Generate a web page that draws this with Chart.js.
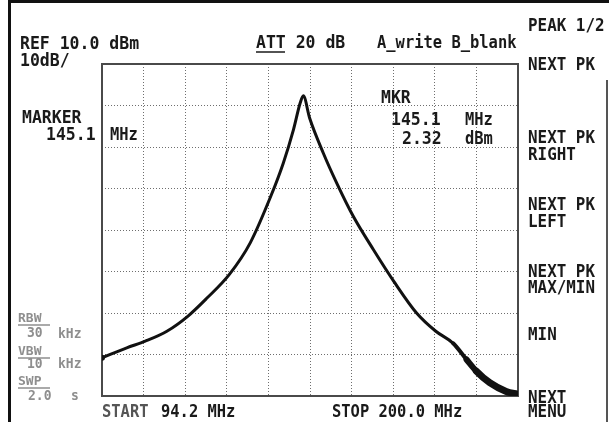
<!DOCTYPE html>
<html>
<head>
<meta charset="utf-8">
<script src="https://cdn.jsdelivr.net/npm/chart.js@4.4.1/dist/chart.umd.min.js"></script>
<style>
  html, body { margin: 0; padding: 0; background: #fff; }
  #wrap { position: relative; width: 609px; height: 422px; }
</style>
</head>
<body>
<div id="wrap"><canvas id="sa"></canvas></div>
<script>
/* spectrum analyser trace, 94.2 - 200 MHz, ref 10 dBm, 10 dB/div */

var FREQ_MHZ = [94.2, 100.5, 105.2, 110.7, 116.0, 120.9, 126.6, 131.9, 137.2, 140.3, 142.9,
                144.6, 145.4, 147.0, 150.5, 153.9, 158.1, 163.2, 168.5, 174.2, 179.1,
                183.5, 186.9, 189.4, 192.8, 197.0, 200.0];
var LEVEL_DBM = [-60.8, -58.4, -56.8, -54.4, -50.8, -46.4, -40.7, -33.1, -21.7, -13.9, -5.8,
                 0.6, 2.32, -3.0, -11.5, -18.7, -26.7, -34.7, -42.5, -50.0, -54.4,
                 -57.3, -61.2, -64.0, -66.8, -68.9, -69.6];

var F_START = 94.2, F_STOP = 200.0;
var REF_LEVEL = 10, BOTTOM_LEVEL = -70;

var MENU_LINES = [
    ['PEAK 1/2', 31], ['NEXT PK', 70],
    ['NEXT PK', 143], ['RIGHT', 160],
    ['NEXT PK', 210], ['LEFT', 227],
    ['NEXT PK', 277], ['MAX/MIN', 293],
    ['MIN', 340],
    ['NEXT', 403], ['MENU', 417]
];

var TEXT_DARK = '#1a1a1a';
var TEXT_GREY = '#8e8e8e';
var GRID_COL  = '#6e6e6e';
var FRAME_COL = '#4a4a4a';

function txt(ctx, s, x, y, size, color, sy, sx) {
    ctx.save();
    ctx.font = 'bold ' + size + 'px "DejaVu Sans Mono"';
    ctx.fillStyle = color;
    ctx.textBaseline = 'alphabetic';
    ctx.translate(x, y);
    ctx.scale(sx || 1.03, sy || 1.12);
    ctx.fillText(s, 0, 0);
    ctx.restore();
}

function underline(ctx, x1, x2, y, color) {
    ctx.save();
    ctx.strokeStyle = color;
    ctx.lineWidth = 1.5;
    ctx.beginPath();
    ctx.moveTo(x1, y);
    ctx.lineTo(x2, y);
    ctx.stroke();
    ctx.restore();
}

var screenPlugin = {
    id: 'screen',
    beforeDatasetsDraw: function(chart) {
        var ctx = chart.ctx, a = chart.chartArea;
        ctx.save();
        ctx.strokeStyle = FRAME_COL;
        ctx.lineWidth = 2;
        ctx.strokeRect(a.left, a.top, a.right - a.left, a.bottom - a.top);
        ctx.restore();
    },
    afterDraw: function(chart) {
        var ctx = chart.ctx;

        // photo border
        ctx.save();
        ctx.fillStyle = '#111';
        ctx.fillRect(8, 0, 3, 422);
        ctx.fillRect(8, 0, 601, 3);
        ctx.fillStyle = '#555';
        ctx.fillRect(606, 80, 2, 342);
        ctx.restore();

        // header
        txt(ctx, 'REF 10.0 dBm', 20, 49, 16, TEXT_DARK);
        txt(ctx, '10dB/', 20, 66, 16, TEXT_DARK);
        txt(ctx, 'ATT 20 dB', 256, 48, 16, TEXT_DARK);
        underline(ctx, 256, 285, 52, TEXT_DARK);
        txt(ctx, 'A_write B_blank', 377, 48, 15, TEXT_DARK);

        // soft keys
        MENU_LINES.forEach(function(m) {
            txt(ctx, m[0], 528, m[1], 15, TEXT_DARK, 1.15, 1.06);
        });

        // marker readouts
        txt(ctx, 'MARKER', 22, 123, 16, TEXT_DARK);
        txt(ctx, '145.1', 46, 140, 16, TEXT_DARK);
        txt(ctx, 'MHz', 110, 140, 15, TEXT_DARK);
        txt(ctx, 'MKR', 381, 103, 16, TEXT_DARK);
        txt(ctx, '145.1', 391, 125, 16, TEXT_DARK);
        txt(ctx, 'MHz', 465, 125, 15, TEXT_DARK);
        txt(ctx, '2.32', 402, 144, 16, TEXT_DARK);
        txt(ctx, 'dBm', 465, 144, 15, TEXT_DARK);

        // bandwidth / sweep block
        txt(ctx, 'RBW', 18, 322, 13, TEXT_GREY, 0.95, 1);
        underline(ctx, 18, 50, 325, TEXT_GREY);
        txt(ctx, '30', 27, 337, 13, TEXT_GREY, 1.08, 1);
        txt(ctx, 'kHz', 58, 338, 13, TEXT_GREY, 1.08, 1);
        txt(ctx, 'VBW', 18, 355, 13, TEXT_GREY, 0.95, 1);
        underline(ctx, 18, 50, 358, TEXT_GREY);
        txt(ctx, '10', 27, 368, 13, TEXT_GREY, 1.08, 1);
        txt(ctx, 'kHz', 58, 368, 13, TEXT_GREY, 1.08, 1);
        txt(ctx, 'SWP', 18, 385, 13, TEXT_GREY, 0.95, 1);
        underline(ctx, 18, 50, 388, TEXT_GREY);
        txt(ctx, '2.0', 28, 400, 13, TEXT_GREY, 1.08, 1);
        txt(ctx, 's', 71, 400, 13, TEXT_GREY, 1.08, 1);

        // span
        txt(ctx, 'START', 102, 417, 15, '#555');
        txt(ctx, '94.2 MHz', 161, 417, 15, TEXT_DARK);
        txt(ctx, 'STOP 200.0 MHz', 332, 417, 15, TEXT_DARK);
    }
};

var points = FREQ_MHZ.map(function(f, i) { return { x: f, y: LEVEL_DBM[i] }; });

new Chart(document.getElementById('sa'), {
    type: 'line',
    data: {
        datasets: [{
            data: points,
            borderColor: '#111',
            borderWidth: 3,
            borderJoinStyle: 'round',
            borderCapStyle: 'round',
            cubicInterpolationMode: 'monotone',
            pointRadius: function(c) { return c.dataIndex === 0 ? 3 : 0; },
            pointBackgroundColor: '#111',
            pointBorderWidth: 0,
            fill: false,
            segment: {
                borderWidth: function(c) {
                    var x = c.p0.parsed.x;
                    if (x >= 189) return 7;
                    if (x >= 186) return 6;
                    if (x >= 183) return 4;
                    return 3;
                }
            }
        }]
    },
    options: {
        responsive: true,
        maintainAspectRatio: false,
        animation: false,
        layout: { padding: { left: 102, top: 64, right: 91, bottom: 26 } },
        plugins: { legend: { display: false }, tooltip: { enabled: false } },
        scales: {
            x: {
                type: 'linear',
                min: F_START, max: F_STOP,
                ticks: { display: false, count: 11 },
                border: { display: false, dash: [1, 2] },
                grid: { color: GRID_COL, lineWidth: 1, drawTicks: false }
            },
            y: {
                min: BOTTOM_LEVEL, max: REF_LEVEL,
                ticks: { display: false, stepSize: 10 },
                border: { display: false, dash: [1, 2] },
                grid: { color: GRID_COL, lineWidth: 1, drawTicks: false }
            }
        }
    },
    plugins: [screenPlugin]
});
</script>
</body>
</html>
